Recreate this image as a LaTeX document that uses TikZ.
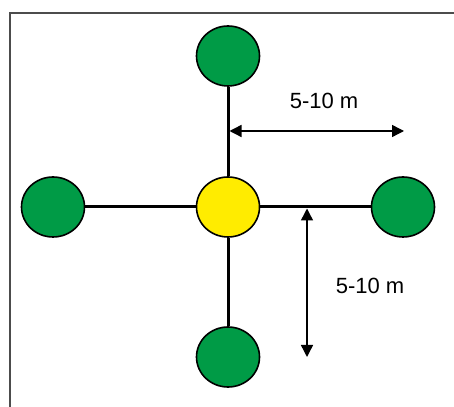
\documentclass[tikz,border=0pt]{standalone}
\usepackage{fontspec}
\setmainfont{Liberation Sans}
\usetikzlibrary{shapes.geometric,arrows.meta}
\definecolor{plotgreen}{RGB}{0,155,70}
\definecolor{plotyellow}{RGB}{255,236,0}
\tikzset{
  plot/.style={ellipse, draw=black, line width=1.6pt, fill=plotgreen, minimum width=63pt, minimum height=60pt, inner sep=0pt},
  centre/.style={plot, fill=plotyellow},
  link/.style={line width=3pt},
  span/.style={line width=1.4pt, {Triangle[length=12pt,width=12pt]}-{Triangle[length=12pt,width=12pt]}},
  lbl/.style={font=\fontsize{22}{26}\selectfont}
}
\begin{document}
\begin{tikzpicture}[x=1pt,y=1pt]
\clip (0,0) rectangle (454,406);
\fill[white] (0,0) rectangle (454,406);
\draw[line width=1.7pt, black!70] (9.8,-20) rectangle (480,393);
\node[centre] (c) at (228,199) {};
\node[plot] (n) at (228,350) {};
\node[plot] (s) at (228,49) {};
\node[plot] (w) at (53,199) {};
\node[plot] (e) at (403,199) {};
\draw[link] (c) -- (n);
\draw[link] (c) -- (s);
\draw[link] (c) -- (w);
\draw[link] (c) -- (e);
\coordinate (h1) at (229.5,275);
\coordinate (h2) at (404,275);
\coordinate (v1) at (307,197.5);
\coordinate (v2) at (307,49);
\draw[span] (h1) -- (h2);
\draw[span] (v1) -- (v2);
\node[lbl] (hl) at (324,305) {5-10 m};
\node[lbl] (vl) at (370,120) {5-10 m};
\end{tikzpicture}
\end{document}
